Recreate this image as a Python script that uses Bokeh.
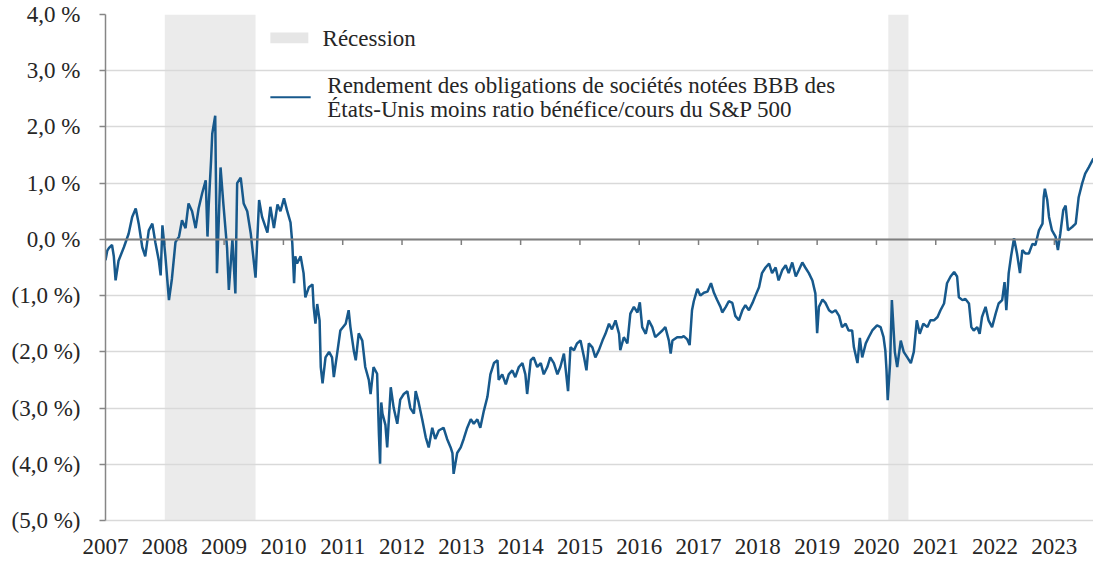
from bokeh.plotting import figure
from bokeh.models import FixedTicker, Span, Label, Range1d
from bokeh.embed import file_html
from bokeh.resources import INLINE

# ---------------- data ----------------
dates = [
    2007.00, 2007.03, 2007.06, 2007.11, 2007.14, 2007.17, 2007.22, 2007.31, 2007.39, 2007.45,
    2007.51, 2007.56, 2007.62, 2007.67, 2007.73, 2007.79, 2007.84, 2007.90, 2007.93, 2007.96,
    2008.01, 2008.07, 2008.12, 2008.18, 2008.24, 2008.29, 2008.35, 2008.40, 2008.46, 2008.52,
    2008.57, 2008.63, 2008.69, 2008.72, 2008.74, 2008.78, 2008.80, 2008.85, 2008.88, 2008.94,
    2008.99, 2009.05, 2009.08, 2009.14, 2009.19, 2009.22, 2009.28, 2009.33, 2009.39, 2009.45,
    2009.53, 2009.59, 2009.64, 2009.73, 2009.78, 2009.84, 2009.90, 2009.95, 2010.01, 2010.06,
    2010.12, 2010.15, 2010.18, 2010.20, 2010.23, 2010.29, 2010.34, 2010.37, 2010.43, 2010.49,
    2010.51, 2010.54, 2010.57, 2010.61, 2010.63, 2010.66, 2010.71, 2010.77, 2010.82, 2010.85,
    2010.91, 2010.96, 2011.05, 2011.10, 2011.13, 2011.19, 2011.22, 2011.27, 2011.33, 2011.38,
    2011.44, 2011.47, 2011.52, 2011.58, 2011.61, 2011.63, 2011.65, 2011.67, 2011.72, 2011.75,
    2011.81, 2011.86, 2011.92, 2011.97, 2012.03, 2012.09, 2012.14, 2012.20, 2012.23, 2012.28,
    2012.34, 2012.40, 2012.45, 2012.51, 2012.56, 2012.62, 2012.70, 2012.76, 2012.82, 2012.85,
    2012.87, 2012.93, 2012.99, 2013.04, 2013.10, 2013.16, 2013.21, 2013.27, 2013.32, 2013.38,
    2013.44, 2013.49, 2013.55, 2013.61, 2013.63, 2013.69, 2013.75, 2013.80, 2013.86, 2013.91,
    2013.97, 2014.03, 2014.08, 2014.11, 2014.17, 2014.22, 2014.28, 2014.34, 2014.39, 2014.45,
    2014.50, 2014.56, 2014.62, 2014.67, 2014.73, 2014.80, 2014.84, 2014.90, 2014.95, 2015.01,
    2015.07, 2015.11, 2015.15, 2015.21, 2015.26, 2015.32, 2015.38, 2015.43, 2015.49, 2015.54,
    2015.60, 2015.66, 2015.68, 2015.74, 2015.80, 2015.85, 2015.91, 2015.97, 2016.01, 2016.05,
    2016.11, 2016.16, 2016.22, 2016.27, 2016.33, 2016.39, 2016.44, 2016.50, 2016.53, 2016.56,
    2016.64, 2016.72, 2016.75, 2016.81, 2016.85, 2016.89, 2016.92, 2016.98, 2017.03, 2017.09,
    2017.15, 2017.21, 2017.26, 2017.31, 2017.37, 2017.40, 2017.46, 2017.51, 2017.57, 2017.62,
    2017.68, 2017.74, 2017.79, 2017.85, 2017.91, 2017.96, 2018.02, 2018.07, 2018.13, 2018.19,
    2018.24, 2018.30, 2018.35, 2018.41, 2018.47, 2018.52, 2018.58, 2018.64, 2018.69, 2018.75,
    2018.80, 2018.86, 2018.92, 2018.97, 2019.00, 2019.03, 2019.09, 2019.14, 2019.20, 2019.25,
    2019.31, 2019.37, 2019.42, 2019.48, 2019.53, 2019.59, 2019.62, 2019.68, 2019.72, 2019.76,
    2019.82, 2019.87, 2019.93, 2020.01, 2020.07, 2020.12, 2020.15, 2020.17, 2020.19, 2020.23,
    2020.26, 2020.29, 2020.31, 2020.35, 2020.41, 2020.46, 2020.52, 2020.58, 2020.63, 2020.68,
    2020.73, 2020.79, 2020.86, 2020.91, 2020.97, 2021.03, 2021.08, 2021.14, 2021.19, 2021.25,
    2021.31, 2021.36, 2021.39, 2021.45, 2021.50, 2021.56, 2021.60, 2021.64, 2021.70, 2021.74,
    2021.78, 2021.84, 2021.89, 2021.95, 2022.01, 2022.06, 2022.12, 2022.16, 2022.19, 2022.23,
    2022.27, 2022.32, 2022.37, 2022.42, 2022.46, 2022.51, 2022.57, 2022.63, 2022.68, 2022.74,
    2022.80, 2022.82, 2022.84, 2022.88, 2022.91, 2022.96, 2023.02, 2023.06, 2023.10, 2023.15,
    2023.19, 2023.23, 2023.30, 2023.36, 2023.41, 2023.47, 2023.52, 2023.58, 2023.64, 2023.66,
]
spread = [
    -0.37, -0.20, -0.15, -0.10, -0.30, -0.73, -0.38, -0.14, 0.10, 0.40,
    0.55, 0.28, -0.14, -0.30, 0.16, 0.28, -0.05, -0.38, -0.64, 0.25,
    -0.30, -1.08, -0.70, -0.05, 0.05, 0.34, 0.20, 0.64, 0.50, 0.20,
    0.55, 0.82, 1.05, 0.05, 0.60, 1.40, 1.88, 2.20, -0.60, 1.28,
    0.60, -0.15, -0.90, 0.00, -0.96, 1.00, 1.10, 0.64, 0.50, 0.10,
    -0.68, 0.70, 0.40, 0.12, 0.58, 0.20, 0.62, 0.50, 0.73, 0.52,
    0.30, -0.07, -0.78, -0.30, -0.43, -0.30, -0.60, -1.03, -0.85, -0.80,
    -1.20, -1.50, -1.15, -1.44, -2.27, -2.56, -2.10, -2.00, -2.10, -2.45,
    -2.00, -1.62, -1.50, -1.26, -1.56, -2.00, -2.15, -1.67, -1.80, -2.27,
    -2.50, -2.75, -2.27, -2.39, -3.45, -3.99, -2.90, -3.10, -3.30, -3.70,
    -2.63, -3.00, -3.28, -2.85, -2.75, -2.70, -3.00, -3.10, -2.70, -2.90,
    -3.20, -3.52, -3.70, -3.35, -3.55, -3.40, -3.35, -3.55, -3.70, -3.80,
    -4.17, -3.80, -3.70, -3.55, -3.35, -3.20, -3.28, -3.20, -3.35, -3.05,
    -2.80, -2.40, -2.20, -2.15, -2.50, -2.40, -2.58, -2.40, -2.33, -2.45,
    -2.27, -2.20, -2.40, -2.75, -2.15, -2.10, -2.27, -2.20, -2.40, -2.27,
    -2.10, -2.20, -2.40, -2.27, -2.03, -2.70, -1.92, -1.97, -1.85, -1.80,
    -2.10, -2.33, -1.85, -1.92, -2.10, -1.97, -1.80, -1.68, -1.50, -1.60,
    -1.44, -1.68, -1.97, -1.74, -1.85, -1.32, -1.20, -1.30, -1.12, -1.56,
    -1.68, -1.44, -1.56, -1.74, -1.68, -1.62, -1.56, -1.80, -2.03, -1.80,
    -1.74, -1.74, -1.72, -1.78, -1.88, -1.26, -1.10, -0.88, -1.00, -0.95,
    -0.93, -0.78, -0.95, -1.07, -1.20, -1.30, -1.20, -1.10, -1.13, -1.36,
    -1.44, -1.26, -1.17, -1.26, -1.13, -1.00, -0.85, -0.60, -0.50, -0.43,
    -0.60, -0.50, -0.73, -0.55, -0.46, -0.60, -0.41, -0.66, -0.55, -0.41,
    -0.50, -0.60, -0.73, -0.96, -1.67, -1.20, -1.07, -1.13, -1.26, -1.30,
    -1.26, -1.36, -1.56, -1.50, -1.62, -1.62, -1.92, -2.20, -1.75, -2.10,
    -1.85, -1.74, -1.62, -1.53, -1.56, -1.74, -1.98, -2.33, -2.86, -2.20,
    -1.08, -1.62, -2.00, -2.27, -1.80, -2.00, -2.10, -2.20, -2.00, -1.44,
    -1.68, -1.50, -1.56, -1.44, -1.44, -1.38, -1.26, -1.14, -0.78, -0.66,
    -0.58, -0.66, -1.03, -1.08, -1.06, -1.14, -1.56, -1.62, -1.56, -1.68,
    -1.38, -1.20, -1.44, -1.56, -1.32, -1.14, -1.08, -0.76, -1.26, -0.60,
    -0.30, 0.02, -0.25, -0.60, -0.19, -0.25, -0.25, -0.08, -0.10, 0.16,
    0.28, 0.75, 0.90, 0.70, 0.40, 0.16, 0.05, -0.19, 0.10, 0.52,
    0.60, 0.16, 0.22, 0.28, 0.75, 1.00, 1.17, 1.28, 1.40, 1.44,
]
recession_start = [2008.0, 2020.2]
recession_end = [2009.53, 2020.54]

y_ticks = [-5, -4, -3, -2, -1, 0, 1, 2, 3, 4]
y_tick_labels = ["(5,0 %)", "(4,0 %)", "(3,0 %)", "(2,0 %)", "(1,0 %)",
                 "0,0 %", "1,0 %", "2,0 %", "3,0 %", "4,0 %"]
x_ticks = list(range(2007, 2024))
x_tick_labels = [str(t) for t in x_ticks]

legend_recession = "Récession"
legend_series = ["Rendement des obligations  de sociétés notées BBB des",
                 "États-Unis moins ratio bénéfice/cours du S&P 500"]

# ---------------- style ----------------
FONT = "Liberation Serif"
FS = "23px"
TXT = "#262626"
LINE_COLOR = "#17598c"
SHADE = "#ebebeb"
GRID = "#d9d9d9"
AXIS = "#868686"

p = figure(width=1093, height=563,
           x_range=Range1d(2007.0, 2023.66), y_range=Range1d(-5, 4),
           output_backend="svg", toolbar_location=None,
           min_border_left=105, min_border_right=0,
           min_border_top=14, min_border_bottom=43)
p.outline_line_color = None

# recession shading
p.quad(left=recession_start, right=recession_end, bottom=-5, top=4,
       fill_color=SHADE, line_color=None, level="image")

# grid
p.xgrid.visible = False
p.ygrid.ticker = FixedTicker(ticks=y_ticks)
p.ygrid.grid_line_color = GRID
p.ygrid.grid_line_width = 1.5

# y axis
p.yaxis.ticker = FixedTicker(ticks=y_ticks)
p.yaxis.major_label_overrides = dict(zip(y_ticks, y_tick_labels))
p.yaxis.axis_line_color = AXIS
p.yaxis.axis_line_width = 1.5
p.yaxis.major_tick_line_color = AXIS
p.yaxis.major_tick_line_width = 1.5
p.yaxis.major_tick_out = 6
p.yaxis.major_tick_in = 0
p.yaxis.minor_tick_line_color = None
p.yaxis.major_label_standoff = 19
p.yaxis.major_label_text_font = FONT
p.yaxis.major_label_text_font_size = FS
p.yaxis.major_label_text_color = TXT

# x axis
p.xaxis.ticker = FixedTicker(ticks=x_ticks)
p.xaxis.major_label_overrides = dict(zip(x_ticks, x_tick_labels))
p.xaxis.axis_line_color = GRID
p.xaxis.axis_line_width = 1.5
p.xaxis.major_tick_line_color = None
p.xaxis.minor_tick_line_color = None
p.xaxis.major_label_standoff = 12
p.xaxis.major_label_text_font = FONT
p.xaxis.major_label_text_font_size = FS
p.xaxis.major_label_text_color = TXT

# zero line with year ticks
p.add_layout(Span(location=0, dimension="width", line_color="#7f7f7f", line_width=2))
p.segment(x0=x_ticks[1:], y0=0, x1=x_ticks[1:], y1=-0.1,
          line_color="#7f7f7f", line_width=1.5)

# series
p.line(dates, spread, line_color=LINE_COLOR, line_width=2.5)

# legend (manual)
p.quad(left=[2009.78], right=[2010.42], top=[3.68], bottom=[3.49],
       fill_color="#e6e6e6", line_color=None)
p.segment(x0=[2009.78], y0=[2.53], x1=[2010.46], y1=[2.53],
          line_color=LINE_COLOR, line_width=2)
p.add_layout(Label(x=2010.66, y=3.58, text=legend_recession,
                   text_font=FONT, text_font_size=FS, text_color=TXT,
                   text_baseline="middle"))
p.add_layout(Label(x=2010.74, y=2.74, text=legend_series[0],
                   text_font=FONT, text_font_size=FS, text_color=TXT,
                   text_baseline="middle"))
p.add_layout(Label(x=2010.74, y=2.31, text=legend_series[1],
                   text_font=FONT, text_font_size=FS, text_color=TXT,
                   text_baseline="middle"))

open("out.html", "w").write(file_html(p, INLINE))
